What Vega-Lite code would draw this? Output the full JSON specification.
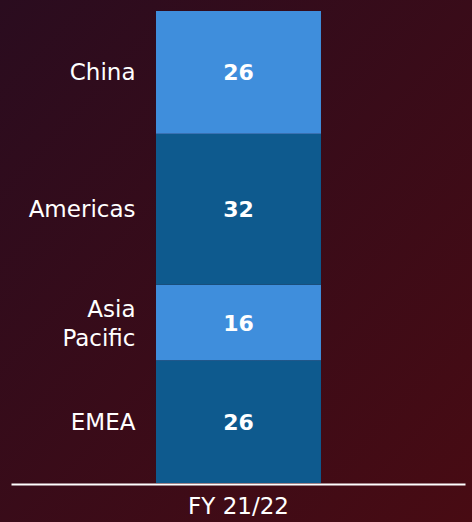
{
  "$schema": "https://vega.github.io/schema/vega-lite/v6.json",
  "width": 472,
  "height": 522,
  "padding": 0,
  "autosize": {"type": "none"},
  "background": "#380d1a",
  "config": {"view": {"stroke": null}, "font": "DejaVu Sans"},
  "layer": [
    {
      "data": {"values": [{"bg": 1}]},
      "mark": {
        "type": "rect",
        "fill": {
          "gradient": "linear",
          "x1": 0, "y1": 0, "x2": 1, "y2": 1,
          "stops": [
            {"offset": 0, "color": "#2a0c1f"},
            {"offset": 1, "color": "#480b13"}
          ]
        }
      },
      "encoding": {}
    },
    {
      "data": {
        "values": [
          {"period": "FY 21/22", "region": "EMEA", "value": 26, "order": 1},
          {"period": "FY 21/22", "region": "Asia\nPacific", "value": 16, "order": 2},
          {"period": "FY 21/22", "region": "Americas", "value": 32, "order": 3},
          {"period": "FY 21/22", "region": "China", "value": 26, "order": 4}
        ]
      },
      "transform": [
        {"stack": "value", "groupby": ["period"], "sort": [{"field": "order", "order": "ascending"}], "as": ["v0", "v1"]},
        {"calculate": "(datum.v0 + datum.v1) / 2", "as": "mid"}
      ],
      "encoding": {
        "x": {
          "field": "period",
          "type": "nominal",
          "scale": {"range": [11, 465], "paddingInner": 0, "paddingOuter": 0.8758, "align": 0.5017},
          "axis": {
            "orient": "bottom",
            "offset": -38,
            "title": null,
            "ticks": false,
            "grid": false,
            "domainColor": "#ffffff",
            "domainWidth": 2,
            "labelColor": "#ffffff",
            "labelFontSize": 23,
            "labelPadding": 11,
            "labelAngle": 0,
            "zindex": 1
          }
        }
      },
      "layer": [
        {
          "mark": {"type": "bar"},
          "encoding": {
            "y": {"field": "v0", "type": "quantitative", "scale": {"domain": [0, 100], "range": [483, 11], "nice": false}, "axis": null},
            "y2": {"field": "v1"},
            "color": {
              "field": "region",
              "type": "nominal",
              "scale": {"domain": ["China", "Americas", "Asia\nPacific", "EMEA"], "range": ["#3f8edc", "#0e5a8e", "#3f8edc", "#0e5a8e"]},
              "legend": null
            }
          }
        },
        {
          "mark": {"type": "text", "fontWeight": "bold", "fontSize": 22, "color": "#ffffff", "baseline": "middle", "dy": 1},
          "encoding": {
            "y": {"field": "mid", "type": "quantitative"},
            "text": {"field": "value", "type": "quantitative"}
          }
        },
        {
          "transform": [{"filter": "datum.order != 2"}],
          "mark": {"type": "text", "align": "right", "dx": -103, "dy": 1, "fontSize": 23, "color": "#ffffff", "baseline": "middle"},
          "encoding": {
            "y": {"field": "mid", "type": "quantitative"},
            "text": {"field": "region", "type": "nominal"}
          }
        },
        {
          "transform": [{"filter": "datum.order == 2"}],
          "mark": {"type": "text", "align": "right", "dx": -103, "dy": -13, "fontSize": 23, "color": "#ffffff", "baseline": "middle", "lineBreak": "\n", "lineHeight": 29},
          "encoding": {
            "y": {"field": "mid", "type": "quantitative"},
            "text": {"field": "region", "type": "nominal"}
          }
        }
      ]
    }
  ]
}
